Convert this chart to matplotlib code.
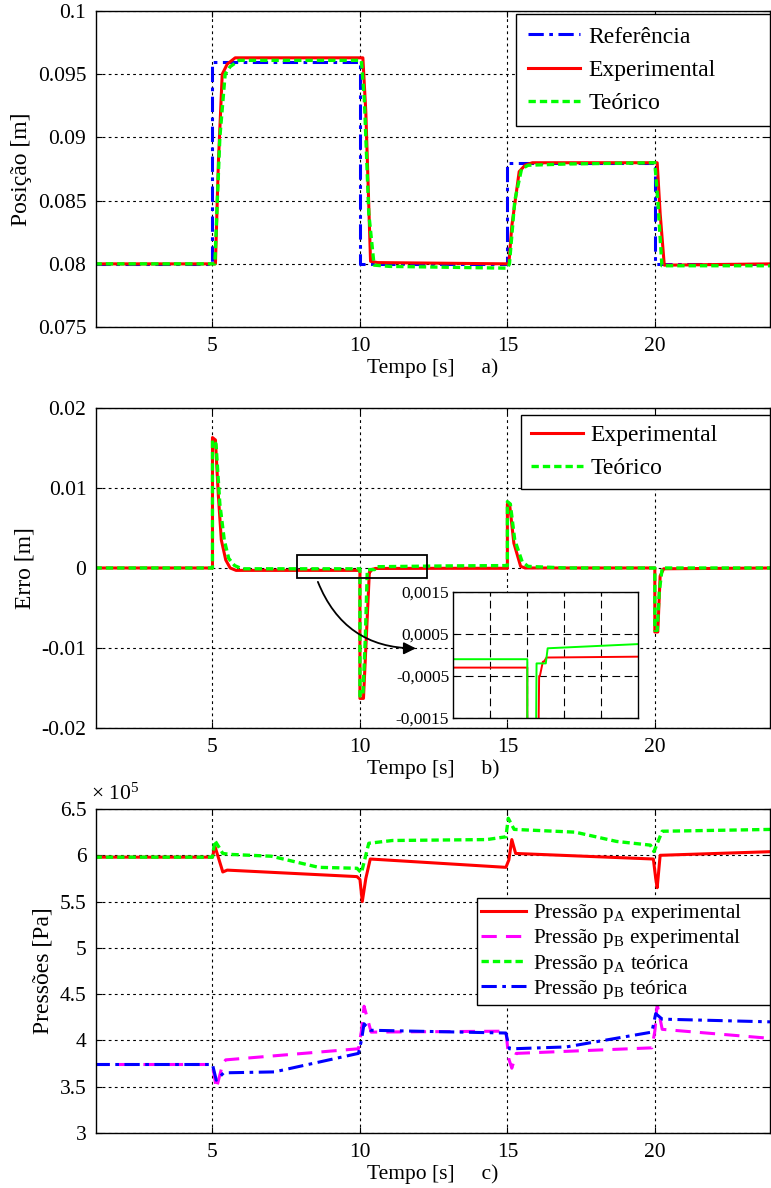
import numpy as np
import matplotlib
matplotlib.use("Agg")
from matplotlib import pyplot as plt
from matplotlib.patches import Rectangle, FancyArrowPatch

plt.rcParams['font.family'] = ['Liberation Serif', 'DejaVu Serif']
plt.rcParams['mathtext.fontset'] = 'custom'
plt.rcParams['mathtext.rm'] = 'Liberation Serif'
plt.rcParams['mathtext.it'] = 'Liberation Serif:italic'
plt.rcParams['font.size'] = 15.5

#------------------------------------------------------------------------------
# a) position [m]
t_ref = [1.0, 5.0, 5.0, 10.0, 10.0, 15.0, 15.0, 20.0, 20.0, 24.0]
x_ref = [0.080, 0.080, 0.096, 0.096, 0.080, 0.080, 0.088, 0.088, 0.080, 0.080]

t_pos_exp = [1.0, 5.10, 5.20, 5.33, 5.50, 5.77, 10.10, 10.20, 10.36, 10.6, 15.05,
             15.15, 15.40, 15.6, 15.85, 20.08, 20.18, 20.32, 20.5, 24.0]
x_pos_exp = [0.0800, 0.0800, 0.0880, 0.0950, 0.0958, 0.0963, 0.0963, 0.0920, 0.0802,
             0.0801, 0.0800, 0.0830, 0.0873, 0.0878, 0.0880, 0.0880, 0.0840, 0.0799,
             0.0799, 0.0800]

t_pos_teo = [1.0, 5.08, 5.25, 5.43, 5.6, 5.9, 10.05, 10.15, 10.3, 10.48, 11.0, 15.0,
             15.07, 15.25, 15.48, 15.7, 17.0, 20.0, 20.1, 20.24, 20.5, 24.0]
x_pos_teo = [0.0800, 0.0800, 0.0900, 0.0950, 0.0956, 0.0961, 0.0961, 0.0930, 0.0840,
             0.0799, 0.0798, 0.07966, 0.0800, 0.0850, 0.0875, 0.0878, 0.0879, 0.0880,
             0.0850, 0.07985, 0.07985, 0.07985]

# b) error [m]
t_err_exp = [1.0, 5.0, 5.0, 5.1, 5.2, 5.3, 5.45, 5.6, 5.8, 10.0, 10.0, 10.12, 10.2,
             10.32, 10.34, 10.42, 10.45, 10.52, 13.0, 15.0, 15.0, 15.08, 15.22, 15.45,
             15.6, 20.0, 20.0, 20.1, 20.18, 20.3, 24.0]
e_err_exp = [0, 0, 0.0163, 0.0160, 0.0090, 0.0035, 0.0010, 0.0, -0.0003, -0.0003,
             -0.0163, -0.0163, -0.0100, -0.0005, -0.0005, -0.00016, -0.00016, -0.00006,
             -0.00004, -0.00004, 0.0080, 0.0078, 0.0031, 0.0002, 0.0, 0.0, -0.0080,
             -0.0080, -0.0010, -0.0001, 0.0]

t_err_teo = [1.0, 5.0, 5.0, 5.12, 5.25, 5.4, 5.55, 5.75, 6.0, 10.0, 10.0, 10.1, 10.18,
             10.25, 10.5, 10.55, 13.0, 15.0, 15.0, 15.1, 15.25, 15.5, 15.7, 17.0, 20.0,
             20.0, 20.08, 20.15, 20.25, 24.0]
e_err_teo = [0, 0, 0.0160, 0.0155, 0.0080, 0.0035, 0.0012, 0.0003, -0.0001, -0.0001,
             -0.0160, -0.0160, -0.0090, -0.0002, -0.0002, 0.00016, 0.00026, 0.0003,
             0.0083, 0.0080, 0.0035, 0.0008, 0.0002, 0.0, 0.0, -0.0078, -0.0078,
             -0.0030, 0.0, 0.0]

# c) pressures [x 10^5 Pa]
t_pa_exp = [1.0, 5.0, 5.08, 5.35, 5.5, 9.9, 10.0, 10.08, 10.2, 10.35, 14.95, 15.05,
            15.15, 15.28, 19.95, 20.03, 20.08, 20.18, 24.0]
p_pa_exp = [5.98, 5.98, 6.10, 5.82, 5.84, 5.77, 5.74, 5.50, 5.75, 5.96, 5.87, 5.95,
            6.17, 6.02, 5.96, 5.75, 5.65, 6.00, 6.04]

t_pb_exp = [1.0, 5.0, 5.13, 5.35, 5.45, 9.95, 10.05, 10.14, 10.38, 14.95, 15.05, 15.15,
            15.3, 19.9, 20.0, 20.08, 20.25, 24.0]
p_pb_exp = [3.74, 3.74, 3.48, 3.75, 3.79, 3.91, 4.10, 4.37, 4.09, 4.10, 3.80, 3.70,
            3.86, 3.92, 4.10, 4.39, 4.12, 4.02]

t_pa_teo = [1.0, 5.0, 5.08, 5.35, 5.6, 7.0, 8.6, 9.9, 10.05, 10.3, 11.1, 14.3, 14.95,
            15.03, 15.23, 17.3, 18.7, 19.85, 19.97, 20.25, 24.0]
p_pa_teo = [5.98, 5.98, 6.16, 6.02, 6.01, 5.99, 5.87, 5.86, 5.81, 6.13, 6.16, 6.17,
            6.20, 6.40, 6.28, 6.25, 6.15, 6.11, 6.04, 6.26, 6.28]

t_pb_teo = [1.0, 5.0, 5.13, 5.38, 7.1, 9.95, 10.05, 10.14, 10.35, 14.95, 15.07, 15.2,
            17.0, 19.9, 20.03, 20.25, 24.0]
p_pb_teo = [3.74, 3.74, 3.57, 3.65, 3.66, 3.86, 4.00, 4.18, 4.11, 4.08, 3.91, 3.91,
            3.93, 4.09, 4.29, 4.23, 4.20]

x_ticks = [5, 10, 15, 20]
x_ticklabels = ['5', '10', '15', '20']
ya_ticks = [0.075, 0.08, 0.085, 0.09, 0.095, 0.1]
ya_ticklabels = ['0.075', '0.08', '0.085', '0.09', '0.095', '0.1']
yb_ticks = [-0.02, -0.01, 0, 0.01, 0.02]
yb_ticklabels = ['-0.02', '-0.01', '0', '0.01', '0.02']
yc_ticks = [3, 3.5, 4, 4.5, 5, 5.5, 6, 6.5]
yc_ticklabels = ['3', '3.5', '4', '4.5', '5', '5.5', '6', '6.5']
yi_ticks = [-0.0015, -0.0005, 0.0005, 0.0015]
yi_ticklabels = ['-0,0015', '-0,0005', '0,0005', '0,0015']
xi_ticks = [9, 10, 11, 12]

#------------------------------------------------------------------------------
RED = '#ff0000'
GREEN = '#00ff00'
BLUE = '#0000ff'
MAGENTA = '#ff00ff'
DASH_GREEN = (0, (2.2, 1.2))
DASH_BLUE = (0, (5, 1.8, 1.2, 1.8))
DASH_MAG = (0, (5, 3))
XLIM = (1.05, 23.9)


def style_axes(ax, yticks, ylabels):
    ax.set_xlim(*XLIM)
    ax.set_xticks(x_ticks)
    ax.set_xticklabels(x_ticklabels)
    ax.set_yticks(yticks)
    ax.set_yticklabels(ylabels)
    ax.set_ylim(yticks[0], yticks[-1])
    ax.grid(True, color='black', linestyle=(0, (2.5, 3)), linewidth=0.8)
    ax.tick_params(direction='in', length=4, width=0.8, top=True, right=True, pad=7)
    for s in ax.spines.values():
        s.set_linewidth(1.0)
        s.set_color('black')


def legend(ax, x0, top, fs=17, spacing=0.5, pad=0.5, hlen=2.2):
    # legend box stretched from x0 to the right spine
    leg = ax.legend(loc='upper left', bbox_to_anchor=(x0, 0.0, 1.0 - x0, top),
                    mode='expand', borderaxespad=0,
                    fontsize=fs, fancybox=False, framealpha=1, edgecolor='black',
                    handlelength=hlen, handletextpad=0.35, labelspacing=spacing,
                    borderpad=pad)
    leg.get_frame().set_linewidth(1.0)
    return leg


fig = plt.figure(figsize=(7.71, 11.88), dpi=100)

# a) position
ax1 = fig.add_axes([0.1245, 0.7247, 0.874, 0.266])
ax1.plot(t_ref, x_ref, color=BLUE, lw=2.2, linestyle=DASH_BLUE, label='Referência')
ax1.plot(t_pos_exp, x_pos_exp, color=RED, lw=2.2, label='Experimental')
ax1.plot(t_pos_teo, x_pos_teo, color=GREEN, lw=2.4, linestyle=DASH_GREEN, label='Teórico')
style_axes(ax1, ya_ticks, ya_ticklabels)
ax1.set_ylabel('Posição [m]', fontsize=17)
ax1.set_xlabel('Tempo [s]     a)', labelpad=2)
legend(ax1, 0.6236, 0.99)

# b) error
ax2 = fig.add_axes([0.1245, 0.3872, 0.874, 0.2694])
ax2.plot(t_err_exp, e_err_exp, color=RED, lw=2.2, label='Experimental')
ax2.plot(t_err_teo, e_err_teo, color=GREEN, lw=2.4, linestyle=DASH_GREEN, label='Teórico')
style_axes(ax2, yb_ticks, yb_ticklabels)
ax2.set_ylabel('Erro [m]', fontsize=17)
ax2.set_xlabel('Tempo [s]     b)', labelpad=2)
legend(ax2, 0.631, 0.978, pad=0.4)

# zoom box and arrow to the inset
ax2.add_patch(Rectangle((7.86, -0.0012), 12.28 - 7.86, 0.0028, fill=False,
                        edgecolor='black', linewidth=1.3, zorder=5))
ax2.add_patch(FancyArrowPatch((8.54, -0.00141), (11.99, -0.01004),
                              connectionstyle='arc3,rad=0.35', arrowstyle='-|>',
                              mutation_scale=18, color='black', linewidth=1.3,
                              zorder=5))

axi = fig.add_axes([453.3 / 771, 1 - 718 / 1188, 185 / 771, 126 / 1188])
axi.plot(t_err_exp, e_err_exp, color=RED, lw=1.4)
axi.plot(t_err_teo, e_err_teo, color=GREEN, lw=1.4)
axi.set_xlim(8, 13)
axi.set_ylim(-0.0015, 0.0015)
axi.set_xticks(xi_ticks)
axi.set_xticklabels([])
axi.set_yticks(yi_ticks)
axi.set_yticklabels(yi_ticklabels, fontsize=12.5)
axi.grid(True, color='black', linestyle=(0, (7, 4)), linewidth=0.8)
axi.tick_params(direction='in', length=3, width=0.8, top=True, right=True, pad=3)
for s in axi.spines.values():
    s.set_linewidth(1.0)

# c) pressures
ax3 = fig.add_axes([0.1245, 0.0463, 0.874, 0.2727])
ax3.plot(t_pa_exp, p_pa_exp, color=RED, lw=2.2, label='Pressão p$_{\\mathrm{A}}$ experimental')
ax3.plot(t_pb_exp, p_pb_exp, color=MAGENTA, lw=2.2, linestyle=DASH_MAG,
         label='Pressão p$_{\\mathrm{B}}$ experimental')
ax3.plot(t_pa_teo, p_pa_teo, color=GREEN, lw=2.4, linestyle=DASH_GREEN,
         label='Pressão p$_{\\mathrm{A}}$ teórica')
ax3.plot(t_pb_teo, p_pb_teo, color=BLUE, lw=2.2, linestyle=DASH_BLUE,
         label='Pressão p$_{\\mathrm{B}}$ teórica')
style_axes(ax3, yc_ticks, yc_ticklabels)
ax3.set_ylabel('Pressões [Pa]', fontsize=17)
ax3.set_xlabel('Tempo [s]     c)', labelpad=2)
ax3.text(-0.008, 1.045, '× 10$^{5}$', transform=ax3.transAxes, ha='left', va='center',
         fontsize=15.5)
legend(ax3, 0.5657, 0.725, fs=15.2, spacing=0.1, pad=0.2, hlen=2.1)

fig.savefig('out.png', dpi=100)
